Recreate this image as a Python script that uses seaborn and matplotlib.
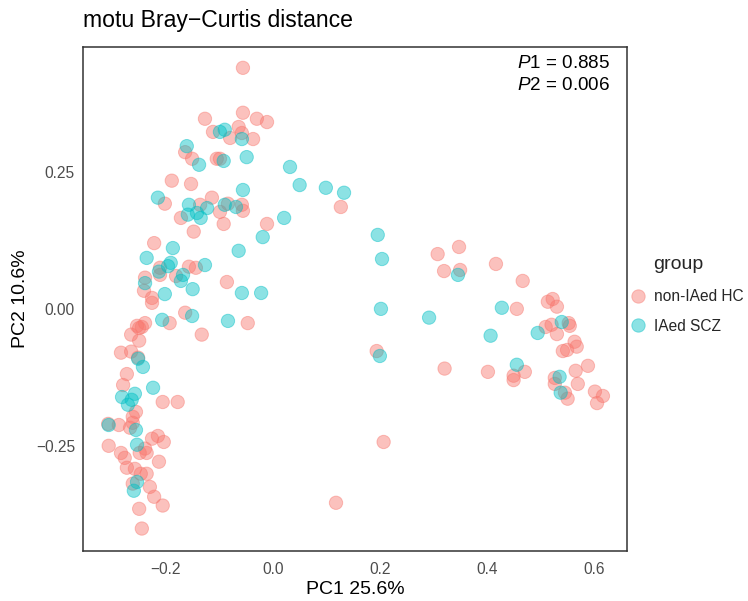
import numpy as np
import pandas as pd
import matplotlib
matplotlib.use("Agg")
import matplotlib.pyplot as plt
from matplotlib.lines import Line2D
import seaborn as sns

# PCoA coordinates (motu Bray-Curtis), one list per group
hc_pc1 = [-0.056, -0.056, -0.127, -0.030, -0.011, -0.112, -0.064, -0.080, -0.037, -0.058,
          -0.164, -0.151, -0.105, -0.099, -0.189, -0.153, -0.202, -0.114, -0.136, -0.172,
          -0.084, -0.058, -0.056, -0.099, -0.092, -0.148, -0.011, -0.222, -0.211, -0.211,
          -0.157, -0.144, -0.181, -0.239, -0.241, -0.086, -0.226, -0.226, -0.164, -0.193,
          -0.047, -0.239, -0.254, -0.245, -0.250, -0.265, -0.250, -0.133, -0.284, -0.265,
          -0.252, -0.273, -0.280, -0.206, -0.178, -0.256, -0.262, -0.262, -0.308, -0.288,
          -0.267, -0.215, -0.226, -0.204, -0.307, -0.284, -0.277, -0.239, -0.236, -0.249,
          -0.213, -0.273, -0.258, -0.247, -0.236, -0.262, -0.230, -0.222, -0.250, -0.206,
          -0.245, 0.127, 0.118, 0.207, 0.308, 0.348, 0.320, 0.350, 0.417, 0.467,
          0.456, 0.514, 0.523, 0.531, 0.510, 0.521, 0.553, 0.555, 0.531, 0.564,
          0.568, 0.542, 0.550, 0.194, 0.321, 0.402, 0.471, 0.450, 0.450, 0.566,
          0.589, 0.527, 0.527, 0.570, 0.546, 0.551, 0.602, 0.617, 0.606]
hc_pc2 = [0.440, 0.358, 0.347, 0.347, 0.341, 0.323, 0.332, 0.312, 0.310, 0.321,
          0.286, 0.274, 0.274, 0.274, 0.234, 0.228, 0.192, 0.203, 0.190, 0.166,
          0.192, 0.190, 0.179, 0.177, 0.155, 0.141, 0.155, 0.120, 0.075, 0.062,
          0.077, 0.075, 0.060, 0.057, 0.033, 0.049, 0.020, 0.011, -0.007, -0.026,
          -0.026, -0.026, -0.031, -0.033, -0.035, -0.047, -0.058, -0.047, -0.080, -0.078,
          -0.089, -0.119, -0.139, -0.170, -0.170, -0.188, -0.197, -0.208, -0.210, -0.212,
          -0.217, -0.232, -0.237, -0.243, -0.250, -0.263, -0.272, -0.255, -0.263, -0.263,
          -0.279, -0.290, -0.292, -0.301, -0.301, -0.319, -0.325, -0.343, -0.365, -0.359,
          -0.401, 0.186, -0.354, -0.243, 0.100, 0.113, 0.069, 0.071, 0.082, 0.051,
          0.000, 0.013, 0.018, 0.004, -0.033, -0.029, -0.026, -0.031, -0.046, -0.060,
          -0.069, -0.077, -0.075, -0.077, -0.109, -0.115, -0.115, -0.122, -0.130, -0.113,
          -0.104, -0.126, -0.137, -0.137, -0.153, -0.164, -0.151, -0.159, -0.172]

scz_pc1 = [-0.099, -0.090, -0.058, -0.161, -0.138, -0.092, -0.049, -0.056, -0.215, -0.157,
           -0.123, -0.142, -0.159, -0.135, -0.090, -0.069, -0.019, -0.187, -0.064, -0.236,
           -0.191, -0.196, -0.213, -0.127, -0.168, -0.172, -0.239, -0.150, -0.058, -0.022,
           -0.202, -0.151, -0.207, -0.084, -0.252, -0.243, -0.224, -0.282, -0.258, -0.264,
           -0.271, -0.307, -0.256, -0.254, -0.254, -0.260, 0.032, 0.050, 0.099, 0.133,
           0.021, 0.196, 0.204, 0.346, 0.202, 0.292, 0.428, 0.540, 0.495, 0.407,
           0.200, 0.456, 0.536, 0.538]
scz_pc2 = [0.323, 0.327, 0.310, 0.297, 0.263, 0.270, 0.277, 0.217, 0.203, 0.190,
           0.184, 0.175, 0.172, 0.166, 0.190, 0.186, 0.131, 0.111, 0.106, 0.093,
           0.084, 0.078, 0.068, 0.080, 0.062, 0.051, 0.047, 0.036, 0.029, 0.029,
           0.027, -0.013, -0.020, -0.022, -0.091, -0.106, -0.144, -0.161, -0.155, -0.166,
           -0.175, -0.212, -0.221, -0.248, -0.316, -0.332, 0.259, 0.226, 0.221, 0.212,
           0.166, 0.135, 0.091, 0.062, 0.000, -0.016, 0.002, -0.024, -0.044, -0.049,
           -0.086, -0.102, -0.124, -0.153]

groups = ["non-IAed HC", "IAed SCZ"]
group_colors = ["#F8766D", "#00BFC4"]
x_ticks = [-0.2, 0.0, 0.2, 0.4, 0.6]
x_tick_labels = ["\u22120.2", "0.0", "0.2", "0.4", "0.6"]
y_ticks = [-0.25, 0.0, 0.25]
y_tick_labels = ["\u22120.25", "0.00", "0.25"]
p_values = [("P1", "0.885"), ("P2", "0.006")]

df = pd.DataFrame({
    "PC1": hc_pc1 + scz_pc1,
    "PC2": hc_pc2 + scz_pc2,
    "group": [groups[0]] * len(hc_pc1) + [groups[1]] * len(scz_pc1),
})

sns.set_style("white")
plt.rcParams["font.family"] = ["Liberation Sans", "DejaVu Sans"]
plt.rcParams["mathtext.fontset"] = "custom"
plt.rcParams["mathtext.rm"] = "Liberation Sans"
plt.rcParams["mathtext.it"] = "Liberation Sans:italic"

W, H = 748, 601
fig = plt.figure(figsize=(W / 100, H / 100), dpi=100)
ax = fig.add_axes([83 / W, 50 / H, 544 / W, 504 / H])

palette = dict(zip(groups, group_colors))
sns.scatterplot(data=df, x="PC1", y="PC2", hue="group", hue_order=groups,
                palette=palette, s=92, alpha=0.45, edgecolor="face",
                linewidth=0.7, legend=False, ax=ax)

ax.set_xlim(-0.355, 0.662)
ax.set_ylim(-0.442, 0.478)
ax.set_xticks(x_ticks)
ax.set_xticklabels(x_tick_labels)
ax.set_yticks(y_ticks)
ax.set_yticklabels(y_tick_labels)
ax.tick_params(axis="both", which="major", length=3.6, width=1.0,
               color="#333333", labelcolor="#4D4D4D", labelsize=11.2)
ax.tick_params(axis="x", pad=4.0)
ax.tick_params(axis="y", pad=2.2)
for side in ["left", "right", "top", "bottom"]:
    ax.spines[side].set_visible(True)
    ax.spines[side].set_color("#333333")
    ax.spines[side].set_linewidth(1.1)

ax.set_xlabel("PC1 25.6%", fontsize=14, color="black")
ax.set_ylabel("PC2 10.6%", fontsize=14, color="black")
ax.xaxis.set_label_coords(0.5, (551 - 589) / 504)
ax.xaxis.label.set_va("center")
ax.yaxis.set_label_coords((21 - 83) / 544, 0.5)
ax.yaxis.label.set_va("center")

fig.text(83 / W, 1 - 27 / H, "motu Bray\u2212Curtis distance",
         fontsize=16.6, color="black", ha="left", va="baseline")

# PERMANOVA p-values, upper right corner
for i, (name, val) in enumerate(p_values):
    ax.text(1 - 17 / 544, 1 - (17 + 21 * i) / 504,
            r"$\mathit{%s}$%s = %s" % (name[0], name[1:], val),
            transform=ax.transAxes, ha="right", va="center",
            fontsize=13.6, color="black")

# legend
fig.text(653 / W, 1 - 264 / H, "group", fontsize=14, ha="left", va="center")
handles = [Line2D([], [], linestyle="none", marker="o", markersize=9.6,
                  markerfacecolor=c, markeredgecolor=c, markeredgewidth=0.7,
                  alpha=0.45)
           for c in group_colors]
fig.legend(handles, groups, loc="upper left",
           bbox_to_anchor=(630 / W, 1 - 289 / H), frameon=False,
           fontsize=11.2, handlelength=1.0, handletextpad=0.55,
           labelspacing=0.95, borderpad=0, borderaxespad=0)

fig.savefig("out.png", dpi=100)
